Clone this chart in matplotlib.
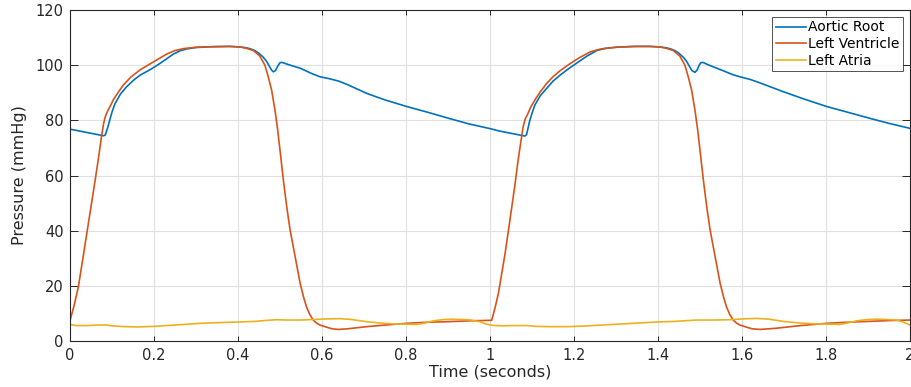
import numpy as np
import matplotlib

matplotlib.use('Agg')
import matplotlib.pyplot as plt

# Aortic root pressure
t_aorta = [0.000, 0.020, 0.040, 0.060, 0.080, 0.084, 0.090, 0.095, 0.100, 0.107,
           0.120, 0.135, 0.151, 0.167, 0.190, 0.210, 0.230, 0.246, 0.262, 0.278,
           0.300, 0.340, 0.380, 0.405, 0.420, 0.430, 0.440, 0.450, 0.460, 0.468,
           0.475, 0.480, 0.484, 0.489, 0.494, 0.500, 0.505, 0.520, 0.548, 0.575,
           0.595, 0.620, 0.640, 0.660, 0.706, 0.750, 0.802, 0.850, 0.900, 0.950,
           1.000,
           1.020, 1.040, 1.060, 1.083, 1.087, 1.095, 1.101, 1.107, 1.120, 1.135,
           1.150, 1.167, 1.185, 1.206, 1.230, 1.254, 1.275, 1.300, 1.340, 1.380,
           1.405, 1.420, 1.430, 1.440, 1.450, 1.460, 1.468, 1.475, 1.481, 1.488,
           1.493, 1.498, 1.502, 1.507, 1.520, 1.550, 1.579, 1.595, 1.620, 1.635,
           1.665, 1.698, 1.750, 1.802, 1.850, 1.905, 1.950, 2.000]
p_aorta = [76.8, 76.2, 75.6, 75.0, 74.4, 74.7, 77.5, 80.3, 83.0, 86.0,
           89.5, 92.2, 94.5, 96.4, 98.3, 100.2, 102.3, 104.0, 105.2, 105.9,
           106.4, 106.7, 106.8, 106.6, 106.3, 105.9, 105.3, 104.3, 102.9, 101.4,
           99.5, 98.2, 97.6, 98.0, 99.5, 100.9, 101.0, 100.2, 98.9, 97.0,
           95.8, 95.0, 94.2, 93.0, 89.8, 87.4, 85.0, 83.0, 80.8, 78.7,
           77.0,
           76.2, 75.6, 75.0, 74.3, 74.8, 80.1, 83.0, 85.6, 89.0, 91.6,
           94.2, 96.4, 98.5, 100.7, 103.2, 105.3, 106.1, 106.5, 106.8, 106.8,
           106.6, 106.3, 105.9, 105.3, 104.3, 102.9, 101.4, 99.5, 98.0, 97.4,
           98.2, 100.0, 100.9, 101.0, 100.1, 98.3, 96.5, 95.8, 94.8, 94.0,
           92.3, 90.4, 87.6, 85.0, 83.0, 80.7, 78.9, 77.1]

# Left ventricle pressure
t_lv = [0.000, 0.010, 0.020, 0.030, 0.040, 0.050, 0.060, 0.068, 0.075, 0.080,
        0.084, 0.090, 0.097, 0.103, 0.115, 0.127, 0.145, 0.167, 0.190, 0.210,
        0.230, 0.250, 0.270, 0.300, 0.340, 0.380, 0.405, 0.420, 0.4365, 0.452,
        0.464, 0.472, 0.480, 0.488, 0.494, 0.500, 0.508, 0.516, 0.524, 0.536,
        0.548, 0.556, 0.563, 0.571, 0.579, 0.587, 0.595, 0.611, 0.625, 0.639,
        0.660, 0.706, 0.760, 0.802, 0.850, 0.900, 0.950, 1.004,
        1.012, 1.020, 1.028, 1.036, 1.044, 1.052, 1.060, 1.067, 1.073, 1.079,
        1.084, 1.089, 1.097, 1.107, 1.120, 1.135, 1.150, 1.167, 1.190, 1.215,
        1.240, 1.265, 1.300, 1.350, 1.380, 1.405, 1.420, 1.4365, 1.452, 1.464,
        1.472, 1.480, 1.488, 1.494, 1.500, 1.508, 1.516, 1.524, 1.536, 1.548,
        1.556, 1.563, 1.571, 1.579, 1.587, 1.595, 1.611, 1.625, 1.643, 1.680,
        1.740, 1.802, 1.850, 1.900, 1.950, 2.000]
p_lv = [7.4, 13.0, 19.7, 29.3, 39.0, 48.7, 58.4, 66.5, 74.1, 78.8,
        81.3, 83.5, 85.5, 87.4, 90.2, 92.8, 95.7, 98.3, 100.4, 102.2,
        104.0, 105.3, 106.0, 106.5, 106.7, 106.8, 106.6, 106.1, 105.3, 103.3,
        100.0, 95.8, 91.0, 83.7, 77.1, 69.2, 58.4, 48.7, 40.3, 30.6,
        20.9, 16.0, 12.4, 9.6, 7.6, 6.5, 5.8, 5.0, 4.4, 4.2,
        4.4, 5.2, 5.9, 6.4, 6.8, 7.0, 7.3, 7.5,
        12.0, 17.3, 24.5, 31.8, 40.2, 48.7, 57.3, 65.6, 71.8, 77.7,
        80.6, 82.0, 84.8, 87.4, 90.4, 93.4, 95.8, 98.0, 100.5, 102.9,
        104.9, 105.9, 106.5, 106.8, 106.8, 106.6, 106.1, 105.3, 103.3, 100.0,
        95.8, 91.0, 83.7, 77.1, 69.2, 58.4, 48.7, 40.3, 30.6, 20.9,
        16.0, 12.4, 9.6, 7.6, 6.5, 5.8, 5.0, 4.4, 4.2, 4.6,
        5.6, 6.4, 6.8, 7.1, 7.4, 7.6]

# Left atrial pressure
t_la = [0.000, 0.015, 0.040, 0.070, 0.085, 0.100, 0.130, 0.160, 0.200, 0.250,
        0.310, 0.360, 0.405, 0.440, 0.470, 0.490, 0.520, 0.548, 0.580, 0.610,
        0.643, 0.670, 0.706, 0.740, 0.770, 0.800, 0.825, 0.845, 0.865, 0.890,
        0.910, 0.935, 0.955, 0.975, 0.990, 1.005, 1.030, 1.060, 1.087, 1.110,
        1.143, 1.180, 1.222, 1.280, 1.340, 1.397, 1.440, 1.470, 1.492, 1.530,
        1.570, 1.600, 1.635, 1.665, 1.698, 1.740, 1.778, 1.810, 1.833, 1.850,
        1.873, 1.900, 1.921, 1.945, 1.968, 1.985, 2.000]
p_la = [6.0, 5.6, 5.6, 5.8, 5.8, 5.5, 5.2, 5.1, 5.3, 5.8,
        6.4, 6.7, 6.9, 7.1, 7.5, 7.7, 7.6, 7.6, 7.8, 8.0,
        8.1, 7.8, 7.0, 6.5, 6.2, 6.1, 6.0, 6.5, 7.3, 7.8,
        7.9, 7.8, 7.6, 7.0, 6.2, 5.7, 5.5, 5.6, 5.6, 5.3,
        5.2, 5.2, 5.4, 5.9, 6.4, 6.9, 7.1, 7.4, 7.6, 7.6,
        7.7, 8.0, 8.2, 7.9, 7.1, 6.5, 6.2, 6.1, 6.0, 6.5,
        7.3, 7.8, 7.9, 7.8, 7.6, 6.8, 5.8]

plt.rcParams['font.family'] = ['DejaVu Sans']

fig = plt.figure(figsize=(9.11, 3.87), dpi=100)
ax = fig.add_axes([70 / 911, 46 / 387, 840 / 911, 331 / 387])

ax.plot(t_aorta, p_aorta, color='#0072BD', lw=1.2, label='Aortic Root')
ax.plot(t_lv, p_lv, color='#D95319', lw=1.2, label='Left Ventricle')
ax.plot(t_la, p_la, color='#EDB120', lw=1.2, label='Left Atria')

ax.set_xlim(0, 2)
ax.set_ylim(0, 120)
ax.set_xticks(np.arange(0, 2.01, 0.2))
ax.set_xticklabels(['0', '0.2', '0.4', '0.6', '0.8', '1', '1.2', '1.4', '1.6', '1.8', '2'])
ax.set_yticks(np.arange(0, 121, 20))

ax.grid(True, color='#e0e0e0', lw=0.8)
ax.set_axisbelow(True)
for s in ax.spines.values():
    s.set_color('#262626')
    s.set_linewidth(0.8)
ax.tick_params(direction='in', top=True, right=True, width=0.7,
               colors='#262626', labelsize=10.5)
ax.tick_params(axis='x', length=3.6, pad=5)
ax.tick_params(axis='y', length=6, pad=4.5)

ax.set_xlabel('Time (seconds)', fontsize=11.5, color='#262626', labelpad=1)
ax.set_ylabel('Pressure (mmHg)', fontsize=11.5, color='#262626', labelpad=6)

leg = ax.legend(loc='upper right', fontsize=10, frameon=True, fancybox=False,
                edgecolor='#262626', handlelength=2.2, handletextpad=0.15,
                borderpad=0.25, labelspacing=0.2, borderaxespad=0.5)
leg.get_frame().set_linewidth(0.7)

fig.savefig('out.png', dpi=100)
